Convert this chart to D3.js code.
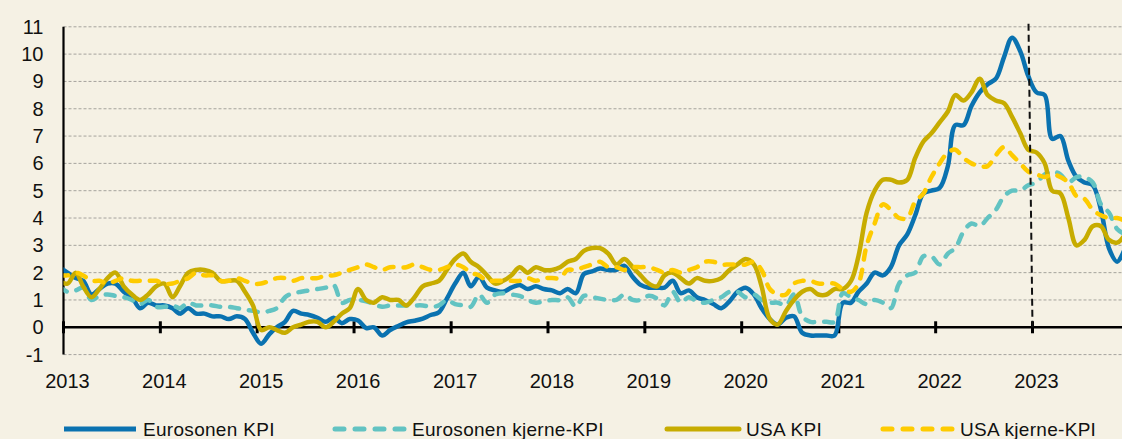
<!DOCTYPE html>
<html>
<head>
<meta charset="utf-8">
<script src="https://cdn.jsdelivr.net/npm/d3@7"></script>
<style>
  html, body { margin: 0; padding: 0; background: #f5f1e4; }
  svg { display: block; }
  text { font-family: "Liberation Sans", Arial, sans-serif; fill: #111; }
</style>
</head>
<body>
<svg id="chart" width="1122" height="439"></svg>
<script>
// ---- Data (monthly, Dec 2012 .. Dec 2023, annual % change) ----
const seriesNames = ["Eurosonen KPI", "Eurosonen kjerne-KPI", "USA KPI", "USA kjerne-KPI"];
const yearTicks = [2013, 2014, 2015, 2016, 2017, 2018, 2019, 2020, 2021, 2022, 2023];
const yTicks = [-1, 0, 1, 2, 3, 4, 5, 6, 7, 8, 9, 10, 11];

const euroKPI = [2.2,
  2.0, 1.8, 1.7, 1.2, 1.4, 1.6, 1.6, 1.3, 1.1, 0.7, 0.9, 0.8,
  0.8, 0.7, 0.5, 0.7, 0.5, 0.5, 0.4, 0.4, 0.3, 0.4, 0.3, -0.2,
  -0.6, -0.25, 0.0, 0.2, 0.6, 0.5, 0.45, 0.35, 0.2, 0.35, 0.15, 0.3,
  0.25, -0.03, 0.0, -0.3, -0.1, 0.05, 0.18, 0.24, 0.32, 0.45, 0.55, 1.05,
  1.6, 2.0, 1.5, 1.85, 1.45, 1.35, 1.3, 1.45, 1.55, 1.4, 1.5, 1.4,
  1.35, 1.25, 1.4, 1.25, 1.95, 2.05, 2.15, 2.1, 2.1, 2.25, 1.85, 1.55,
  1.45, 1.45, 1.45, 1.7, 1.25, 1.35, 1.1, 1.0, 0.85, 0.7, 0.95, 1.3,
  1.45, 1.2, 0.7, 0.3, 0.1, 0.35, 0.4, -0.2, -0.3, -0.3, -0.3, -0.3,
  0.9, 0.9, 1.3, 1.6, 2.0, 1.9, 2.2, 3.0, 3.4, 4.1, 4.9, 5.0,
  5.1, 5.9, 7.4, 7.4, 8.1, 8.6, 8.9, 9.1, 9.9, 10.6, 10.1, 9.2,
  8.6, 8.5, 6.9, 7.0, 6.1, 5.5, 5.3, 5.2, 4.3, 2.9, 2.4, 2.9];

const euroCore = [1.5,
  1.3, 1.35, 1.45, 1.0, 1.15, 1.2, 1.15, 1.1, 1.0, 0.85, 1.0, 0.75,
  0.75, 0.8, 0.7, 0.9, 0.8, 0.8, 0.8, 0.75, 0.75, 0.7, 0.65, 0.6,
  0.55, 0.6, 0.7, 1.1, 1.25, 1.3, 1.35, 1.4, 1.45, 1.55, 0.9, 1.0,
  1.0, 0.95, 0.85, 0.75, 0.8, 0.8, 0.8, 0.8, 0.8, 0.75, 0.8, 1.0,
  0.85, 0.8, 0.75, 1.2, 0.9, 1.2, 1.25, 1.2, 1.15, 1.0, 0.9, 0.95,
  1.0, 1.0, 1.1, 0.75, 1.15, 1.1, 1.05, 1.0, 1.0, 1.2, 1.0, 1.0,
  1.15, 1.05, 0.8, 1.3, 0.9, 1.1, 0.95, 0.9, 1.0, 1.1, 1.3, 1.3,
  1.1, 1.2, 1.0, 0.9, 0.9, 0.8, 1.2, 0.4, 0.2, 0.2, 0.2, 0.2,
  1.25, 1.1, 1.0, 0.85, 1.0, 0.9, 0.7, 1.6, 1.9, 2.0, 2.6, 2.6,
  2.3, 2.7, 2.9, 3.5, 3.8, 3.7, 4.0, 4.3, 4.8, 5.0, 5.0, 5.2,
  5.3, 5.6, 5.7, 5.6, 5.3, 5.5, 5.5, 5.3, 4.5, 4.2, 3.6, 3.4];

const usaKPI = [1.7,
  1.6, 2.0, 1.5, 1.1, 1.4, 1.8, 2.0, 1.5, 1.2, 1.0, 1.2, 1.5,
  1.6, 1.1, 1.5, 2.0, 2.1, 2.1, 2.0, 1.7, 1.7, 1.7, 1.3, 0.8,
  -0.1, 0.0, -0.1, -0.2, 0.0, 0.1, 0.2, 0.2, 0.0, 0.2, 0.5, 0.7,
  1.4, 1.0, 0.9, 1.1, 1.0, 1.0, 0.8, 1.1, 1.5, 1.6, 1.7, 2.1,
  2.5, 2.7, 2.4, 2.2, 1.9, 1.6, 1.7, 1.9, 2.2, 2.0, 2.2, 2.1,
  2.1, 2.2, 2.4, 2.5, 2.8, 2.9, 2.9, 2.7, 2.3, 2.5, 2.2, 1.9,
  1.6, 1.5, 1.9, 2.0, 1.8, 1.6, 1.8, 1.7, 1.7, 1.8, 2.1, 2.3,
  2.5, 2.3, 1.5, 0.3, 0.1, 0.6, 1.0, 1.3, 1.4, 1.2, 1.2, 1.4,
  1.4, 1.7, 2.6, 4.2, 5.0, 5.4, 5.4, 5.3, 5.4, 6.2, 6.8, 7.1,
  7.5, 7.9, 8.5, 8.3, 8.6, 9.1, 8.5, 8.3, 8.2, 7.7, 7.1, 6.5,
  6.4, 6.0, 5.0, 4.9, 4.0, 3.0, 3.2, 3.7, 3.7, 3.2, 3.1, 3.4];

const usaCore = [1.9,
  1.9, 2.0, 1.9, 1.7, 1.7, 1.6, 1.7, 1.8, 1.7, 1.7, 1.7, 1.7,
  1.6, 1.6, 1.7, 1.8, 2.0, 1.9, 1.9, 1.7, 1.7, 1.8, 1.7, 1.6,
  1.6, 1.7, 1.8, 1.8, 1.7, 1.8, 1.8, 1.8, 1.9, 1.9, 2.0, 2.1,
  2.2, 2.3, 2.2, 2.1, 2.2, 2.2, 2.2, 2.3, 2.2, 2.1, 2.1, 2.2,
  2.3, 2.2, 2.0, 1.9, 1.7, 1.7, 1.7, 1.7, 1.7, 1.8, 1.7, 1.8,
  1.8, 1.8, 2.1, 2.1, 2.2, 2.3, 2.4, 2.2, 2.2, 2.1, 2.2, 2.2,
  2.2, 2.1, 2.0, 2.1, 2.0, 2.1, 2.2, 2.4, 2.4, 2.3, 2.3, 2.3,
  2.3, 2.4, 2.1, 1.4, 1.2, 1.2, 1.6, 1.7, 1.7, 1.6, 1.6, 1.6,
  1.4, 1.3, 1.6, 3.0, 3.8, 4.5, 4.3, 4.0, 4.0, 4.6, 4.9, 5.5,
  6.0, 6.4, 6.5, 6.2, 6.0, 5.9, 5.9, 6.3, 6.6, 6.3, 6.0, 5.7,
  5.6, 5.5, 5.6, 5.5, 5.3, 4.8, 4.7, 4.3, 4.1, 4.0, 4.0, 3.9];

// months: Dec 2012 .. Dec 2023 (category axis)
const months = d3.timeMonth.range(new Date(2012, 11, 1), new Date(2024, 0, 1));

// ---- Chart ----
const W = 1122, H = 439;
const svg = d3.select("#chart");
svg.append("rect").attr("width", W).attr("height", H).attr("fill", "#f5f1e4");

const x = d3.scaleTime()
  .domain([new Date(2013, 0, 1), new Date(2023, 0, 1)])
  .range([63.5, 1032.5]);
const y = d3.scaleLinear().domain([-1, 11]).range([354.6, 26.8]);
const xm = d => x(new Date(d.getFullYear(), d.getMonth(), 16));

// clip
svg.append("defs").append("clipPath").attr("id", "plotclip")
  .append("rect").attr("x", 63.5).attr("y", 0).attr("width", W - 63.5).attr("height", H);

// gridlines
svg.append("g").selectAll("line").data(yTicks.filter(v => v !== 0)).join("line")
  .attr("x1", 63.5).attr("x2", W)
  .attr("y1", d => y(d)).attr("y2", d => y(d))
  .attr("stroke", "#a5a39d").attr("stroke-width", 1).attr("stroke-dasharray", "3,2");

// y labels
svg.append("g").selectAll("text").data(yTicks).join("text")
  .attr("x", 43.5).attr("y", d => y(d) + 7)
  .attr("text-anchor", "end").attr("font-size", 20)
  .text(d => d);

// x labels
svg.append("g").selectAll("text").data(yearTicks).join("text")
  .attr("x", d => x(new Date(d, 0, 1)) + 4).attr("y", 388)
  .attr("text-anchor", "middle").attr("font-size", 20)
  .text(d => d);

// axes
svg.append("line").attr("x1", 63.5).attr("x2", 63.5).attr("y1", y(11)).attr("y2", y(-1))
  .attr("stroke", "#000").attr("stroke-width", 2.2);
svg.append("line").attr("x1", 63.5).attr("x2", W).attr("y1", y(0)).attr("y2", y(0))
  .attr("stroke", "#000").attr("stroke-width", 2.5);
svg.append("g").selectAll("line").data(yearTicks).join("line")
  .attr("x1", d => x(new Date(d, 0, 1))).attr("x2", d => x(new Date(d, 0, 1)))
  .attr("y1", y(0) - 6).attr("y2", y(0) + 6)
  .attr("stroke", "#000").attr("stroke-width", 3);

// series
const styles = [
  { color: "#0a72b0", dash: null, cap: "butt" },
  { color: "#62c3c2", dash: "9,10", cap: "round" },
  { color: "#c7ac00", dash: null, cap: "round" },
  { color: "#fecb00", dash: "9,10", cap: "round" }
];
const seriesData = [euroKPI, euroCore, usaKPI, usaCore];

const line = d3.line()
  .x((d, i) => xm(months[i]))
  .y(d => y(d))
  .curve(d3.curveCatmullRom.alpha(0.5));

const plot = svg.append("g").attr("clip-path", "url(#plotclip)");
seriesData.forEach((vals, k) => {
  plot.append("path")
    .attr("d", line(vals))
    .attr("fill", "none")
    .attr("stroke", styles[k].color)
    .attr("stroke-width", 4.5)
    .attr("stroke-linejoin", "round")
    .attr("stroke-linecap", styles[k].dash ? "round" : "round")
    .attr("stroke-dasharray", styles[k].dash);
});

// vertical dashed marker at 2023
const x23 = x(new Date(2023, 0, 1));
svg.append("line")
  .attr("x1", x23 - 4).attr("y1", y(11) - 3)
  .attr("x2", x23).attr("y2", y(0))
  .attr("stroke", "#111").attr("stroke-width", 2).attr("stroke-dasharray", "7,4");

// legend
const legendX = [64, 333, 667, 881];
const lg = svg.append("g");
seriesNames.forEach((name, k) => {
  const lx = legendX[k];
  lg.append("line")
    .attr("x1", lx + (styles[k].dash ? 2 : 0)).attr("x2", lx + 72)
    .attr("y1", 429).attr("y2", 429)
    .attr("stroke", styles[k].color).attr("stroke-width", 5)
    .attr("stroke-linecap", k === 0 ? "butt" : "round")
    .attr("stroke-dasharray", styles[k].dash ? "9,11" : null);
  lg.append("text")
    .attr("x", lx + 79).attr("y", 436)
    .attr("font-size", 19).attr("letter-spacing", 0.3)
    .text(name);
});
</script>
</body>
</html>
